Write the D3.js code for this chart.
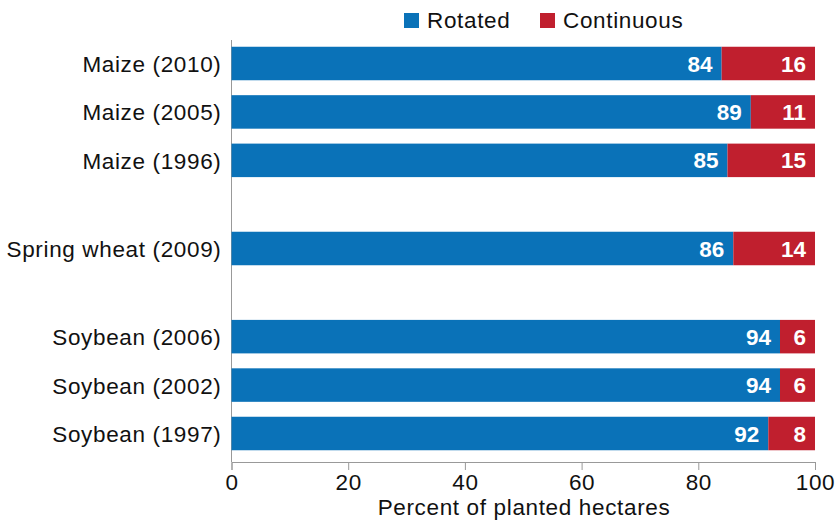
<!DOCTYPE html>
<html><head><meta charset="utf-8">
<script src="https://cdn.jsdelivr.net/npm/d3@7"></script>
<style>body{margin:0;background:#fff;}text{font-family:"Liberation Sans",Arial,Helvetica,sans-serif;}</style>
</head><body><svg id="c" width="837" height="523"></svg>
<script>
const categories = ["Maize (2010)","Maize (2005)","Maize (1996)","Spring wheat (2009)","Soybean (2006)","Soybean (2002)","Soybean (1997)"];
const groups = [0,0,0,1,2,2,2];
const rotated = [84,89,85,86,94,94,92];
const continuous = [16,11,15,14,6,6,8];
const seriesNames = ["Rotated","Continuous"];
const colors = ["#0a72b8","#c01f2e"];
const xTicks = [0,20,40,60,80,100];

const FS = 22.5, LS = "0.65px";
const svg = d3.select("#c");
const x = d3.scaleLinear().domain([0,100]).range([231.5,815]);
const gapFrac = 0.82;
const pos = categories.map((c,i)=>i + groups[i]*gapFrac);
const y = d3.scaleLinear().domain([0, 6+2*gapFrac]).range([63.5, 433.5]);
const bh = 33.5;

svg.append("line").attr("x1",231.5).attr("x2",231.5).attr("y1",40).attr("y2",462).attr("stroke","#999").attr("stroke-width",1);
const xa = svg.append("g").attr("transform","translate(0,462)")
  .call(d3.axisBottom(x).tickValues(xTicks).tickSize(8).tickPadding(4).tickFormat(d3.format("d")));
xa.select(".domain").attr("stroke","#999");
xa.selectAll(".tick line").attr("stroke","#999");
xa.selectAll(".tick text").attr("font-size",FS).attr("fill","#111").attr("letter-spacing",LS).attr("font-family","Liberation Sans, Arial, sans-serif");

svg.append("text").attr("x",524).attr("y",515).attr("text-anchor","middle").attr("font-size",FS).attr("letter-spacing",LS).attr("fill","#111").text("Percent of planted hectares");

const rows = categories.map((c,i)=>({c, yc:y(pos[i]), r:rotated[i], k:continuous[i]}));
const g = svg.append("g");
rows.forEach(d=>{
  g.append("rect").attr("x",x(0)).attr("y",d.yc-bh/2).attr("width",x(d.r)-x(0)).attr("height",bh).attr("fill",colors[0]);
  g.append("rect").attr("x",x(d.r)).attr("y",d.yc-bh/2).attr("width",x(100)-x(d.r)).attr("height",bh).attr("fill",colors[1]);
  g.append("text").attr("x",x(d.r)-9).attr("y",d.yc+8).attr("text-anchor","end").attr("font-size",FS).attr("font-weight","bold").attr("fill","#fff").text(d.r);
  g.append("text").attr("x",x(100)-9).attr("y",d.yc+8).attr("text-anchor","end").attr("font-size",FS).attr("font-weight","bold").attr("fill","#fff").text(d.k);
  g.append("text").attr("x",221.5).attr("y",d.yc+8.5).attr("text-anchor","end").attr("font-size",FS).attr("letter-spacing",LS).attr("fill","#111").text(d.c);
});

const legX = [404,540];
seriesNames.forEach((s,i)=>{
  svg.append("rect").attr("x",legX[i]).attr("y",13).attr("width",15).attr("height",15).attr("fill",colors[i]);
  svg.append("text").attr("x",legX[i]+23).attr("y",28).attr("font-size",FS).attr("letter-spacing",LS).attr("fill","#111").text(s);
});
</script></body></html>
